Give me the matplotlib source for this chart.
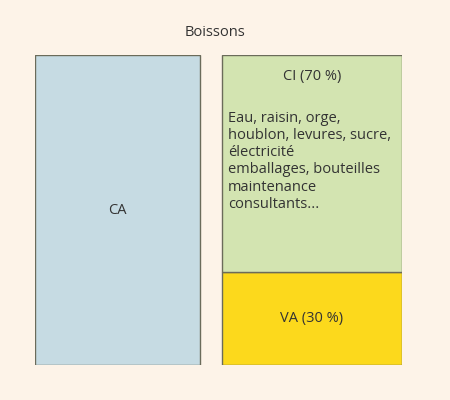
import matplotlib.pyplot as plt

title = "Boissons"
ca_value = 100
ci_value = 70
va_value = 30
ci_label = "CI (70 %)"
va_label = "VA (30 %)"
ci_detail = ("Eau, raisin, orge,\nhoublon, levures, sucre,\nélectricité\n"
             "emballages, bouteilles\nmaintenance\nconsultants...")

plt.rcParams['font.family'] = ['Open Sans', 'DejaVu Sans']
bg = "#fdf3e8"
fig = plt.figure(figsize=(4.5, 4), dpi=100, facecolor=bg)
ax = fig.add_axes([35 / 450, 35 / 400, 367 / 450, 310 / 400])
ax.set_facecolor(bg)
ax.set_xlim(0, 367)
ax.set_ylim(0, 100)
ax.axis("off")

edge = "#6b6b5a"
txt = "#333333"
ax.bar(0, ca_value, width=165, align="edge", color="#c6dbe3", edgecolor=edge, linewidth=1)
ax.bar(187, va_value, width=180, align="edge", color="#fcd91c", edgecolor=edge, linewidth=1)
ax.bar(187, ci_value, bottom=va_value, width=180, align="edge", color="#d3e4b1",
       edgecolor=edge, linewidth=1)

ax.text(82.5, ca_value / 2, "CA", ha="center", va="center", fontsize=10.5, color=txt)
ax.text(277, va_value / 2, va_label, ha="center", va="center", fontsize=10.5, color=txt)
ax.text(277, 93, ci_label, ha="center", va="center", fontsize=10.5, color=txt)
ax.text(193, 82, ci_detail, ha="left", va="top", fontsize=10.5, color=txt, linespacing=1.2)
fig.text(215 / 450, 1 - 32 / 400, title, ha="center", va="center", fontsize=10.5, color=txt)

fig.savefig("out.png", dpi=100, facecolor=bg)
